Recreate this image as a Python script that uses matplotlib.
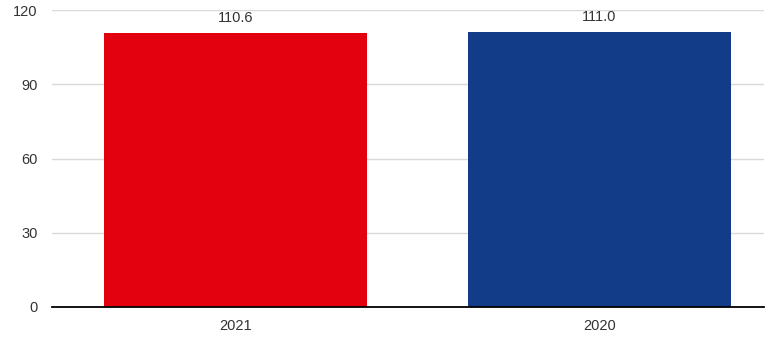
import matplotlib
matplotlib.use("Agg")
import matplotlib.pyplot as plt

years = ["2021", "2020"]
values = [110.6, 111.0]
colors = ["#E3000F", "#123C87"]
yticks = [0, 30, 60, 90, 120]

plt.rcParams["font.family"] = ["Liberation Sans", "DejaVu Sans"]

fig = plt.figure(figsize=(7.65, 3.39), dpi=100)
ax = fig.add_axes([52 / 765, 1 - 307 / 339, 712 / 765, 297 / 339])

x = list(range(len(years)))
bars = ax.bar(x, values, width=0.7225, color=colors, zorder=3)
for xi, v in zip(x, values):
    ax.text(xi, v + 3.3, f"{v:.1f}", ha="center", va="bottom", fontsize=10.5, color="#333333")

ax.set_xlim(-0.504, 1.452)
ax.set_ylim(0, 120)
ax.set_yticks(yticks)
ax.set_xticks(x)
ax.set_xticklabels(years)
ax.grid(axis="y", color="#d9d9d9", linewidth=1, zorder=0)
for s in ["top", "right", "left"]:
    ax.spines[s].set_visible(False)
ax.spines["bottom"].set_color("#000000")
ax.spines["bottom"].set_linewidth(1.3)
ax.spines["bottom"].set_zorder(4)
ax.tick_params(axis="both", length=0, labelsize=10.5, labelcolor="#333333")
ax.tick_params(axis="y", pad=10.5)
ax.tick_params(axis="x", pad=9)

fig.savefig("out.png", dpi=100)
